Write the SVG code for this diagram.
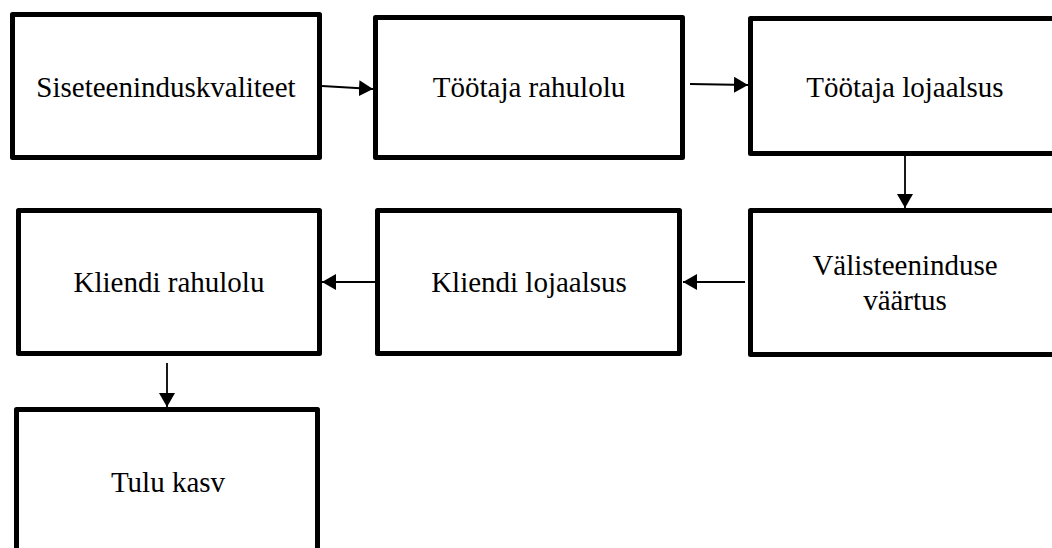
<svg xmlns="http://www.w3.org/2000/svg" width="1052" height="548" viewBox="0 0 1052 548">
<style>
.box{fill:#fff;stroke:#000;stroke-width:5;stroke-linejoin:round}
.lbl{font-family:"Liberation Serif","Times New Roman",serif;font-size:29px;fill:#000;text-anchor:middle}
.con{stroke:#000;stroke-width:1.8;fill:none;marker-end:url(#ah)}
</style>
<defs>
<marker id="ah" markerUnits="userSpaceOnUse" markerWidth="16" markerHeight="18" refX="14" refY="8" orient="auto" viewBox="0 0 16 16">
<path d="M0,0 L14,8 L0,16 Z" fill="#000"/>
</marker>
</defs>
<rect width="1052" height="548" fill="#fff"/>
<g id="n1"><rect class="box" x="12.5" y="14.5" width="307" height="143"/><text class="lbl" x="166" y="97">Siseteeninduskvaliteet</text></g>
<g id="n2"><rect class="box" x="375.5" y="17.5" width="307" height="140"/><text class="lbl" x="529" y="97">Töötaja rahulolu</text></g>
<g id="n3"><rect class="box" x="750.5" y="18.5" width="310" height="135"/><text class="lbl" x="905" y="97">Töötaja lojaalsus</text></g>
<g id="n4"><rect class="box" x="18.5" y="210.5" width="301" height="143"/><text class="lbl" x="169" y="292">Kliendi rahulolu</text></g>
<g id="n5"><rect class="box" x="377.5" y="210.5" width="302" height="143"/><text class="lbl" x="529" y="292">Kliendi lojaalsus</text></g>
<g id="n6"><rect class="box" x="750.5" y="210.5" width="310" height="144"/><text class="lbl" x="905" y="275">Välisteeninduse</text><text class="lbl" x="905" y="310">väärtus</text></g>
<g id="n7"><rect class="box" x="16.5" y="409.5" width="301" height="150"/><text class="lbl" x="168" y="492">Tulu kasv</text></g>
<g id="connectors">
<line class="con" x1="322" y1="86" x2="373" y2="89"/>
<line class="con" x1="690" y1="84" x2="748" y2="85"/>
<line class="con" x1="905" y1="156" x2="905" y2="208"/>
<line class="con" x1="745" y1="282" x2="683" y2="282"/>
<line class="con" x1="375" y1="282" x2="322" y2="282"/>
<line class="con" x1="167" y1="363" x2="167" y2="407"/>
</g>
</svg>
